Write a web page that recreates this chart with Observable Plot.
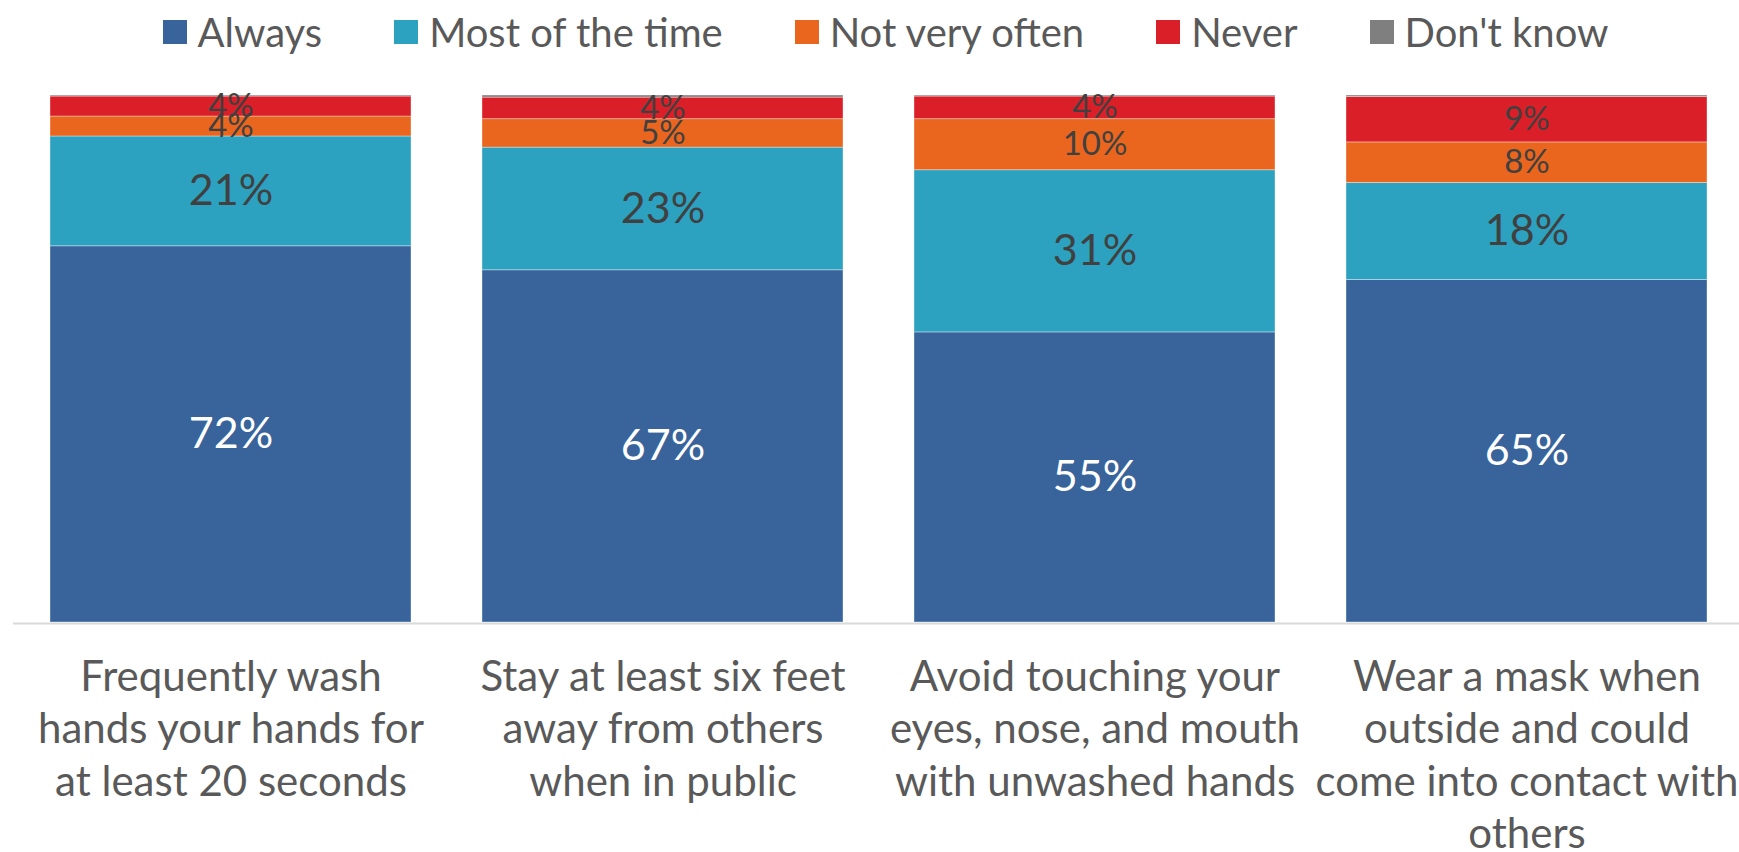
<!DOCTYPE html>
<html>
<head>
<meta charset="utf-8">
<script src="https://cdn.jsdelivr.net/npm/d3@7"></script>
<script src="https://cdn.jsdelivr.net/npm/@observablehq/plot@0.6"></script>
<style>
  html, body { margin: 0; padding: 0; background: #fff; }
  body { width: 1739px; height: 852px; overflow: hidden; font-family: Lato, "Open Sans", sans-serif; }
  #legend { height: 64px; display: flex; justify-content: center; align-items: center; padding-left: 32px; box-sizing: border-box; }
  .item { display: flex; align-items: center; margin: 0 36px; color: #595959; font-size: 40px; }
  .sw { width: 24px; height: 24px; margin-right: 11px; }
  #chart svg { overflow: visible; }
</style>
</head>
<body>
<div id="legend"></div>
<div id="chart"></div>
<script>
const categories = [
  "Frequently wash\nhands your hands for\nat least 20 seconds",
  "Stay at least six feet\naway from others\nwhen in public",
  "Avoid touching your\neyes, nose, and mouth\nwith unwashed hands",
  "Wear a mask when\noutside and could\ncome into contact with\nothers"
];
const seriesNames = ["Always", "Most of the time", "Not very often", "Never", "Don't know"];
const colors = ["#38649b", "#2ca2c0", "#ea661e", "#da1f28", "#7f7f7f"];
const always      = [71.6, 66.9, 55.1, 65.0];
const mostOfTime  = [20.9, 23.3, 30.8, 18.4];
const notVeryOften= [3.8, 5.4, 9.7, 7.7];
const never       = [3.8, 4.1, 4.3, 8.6];
const dontKnow    = [0.2, 0.4, 0.2, 0.3];

const seriesValues = [always, mostOfTime, notVeryOften, never, dontKnow];
const data = [];
categories.forEach((c, i) => {
  seriesNames.forEach((s, j) => data.push({category: c, series: s, value: seriesValues[j][i]}));
});

// legend
const legend = document.getElementById("legend");
seriesNames.forEach((s, j) => {
  const it = document.createElement("div");
  it.className = "item";
  it.innerHTML = `<div class="sw" style="background:${colors[j]}"></div><span>${s}</span>`;
  legend.appendChild(it);
});

const stackOpts = {x: "category", y: "value", z: "series", order: seriesNames, offset: "normalize"};
const labelText = d => d.series === "Don't know" ? "" : Math.round(d.value) + "%";

const chart = Plot.plot({
  width: 1739,
  height: 788,
  marginLeft: 13,
  marginRight: 0,
  marginTop: 31,
  marginBottom: 230,
  style: {fontFamily: "Lato, 'Open Sans', sans-serif", background: "white", overflow: "visible"},
  x: {domain: categories, range: [13, 1745], paddingInner: 0.164, paddingOuter: 0.083, label: null},
  y: {axis: null, domain: [0, 1]},
  color: {domain: seriesNames, range: colors},
  marks: [
    Plot.barY(data, Plot.stackY({...stackOpts, fill: "series", stroke: "white", strokeOpacity: 0.45, strokeWidth: 0.8})),
    Plot.ruleY([0], {stroke: "#d9d9d9", strokeWidth: 2, dy: 1}),
    Plot.text(data, Plot.stackY({...stackOpts, text: d => (d.series === "Always" ? labelText(d) : ""), fill: "white", fontSize: 43})),
    Plot.text(data, Plot.stackY({...stackOpts, text: d => (d.series === "Most of the time" ? labelText(d) : ""), fill: "#404040", fontSize: 43})),
    Plot.text(data, Plot.stackY({...stackOpts, text: d => ((d.series === "Not very often" || d.series === "Never") ? labelText(d) : ""), fill: "#404040", fontSize: 33})),
    Plot.axisX({tickSize: 0, tickPadding: 31, fontSize: 42, lineHeight: 1.25, fill: "#595959", label: null})
  ]
});
document.getElementById("chart").appendChild(chart);
</script>
</body>
</html>
